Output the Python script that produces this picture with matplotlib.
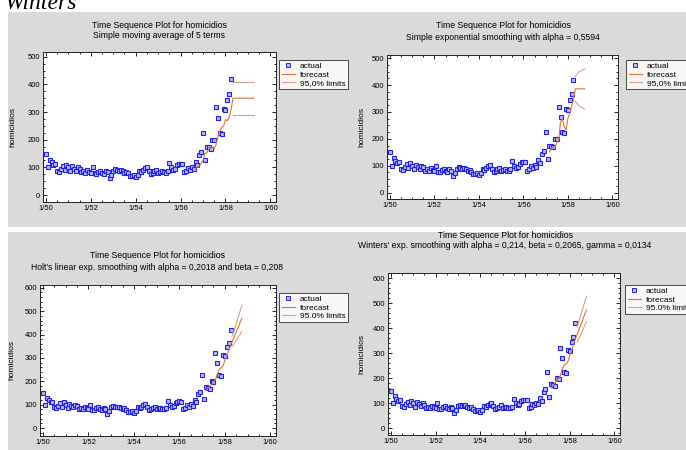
import matplotlib
matplotlib.use('Agg')
import matplotlib.pyplot as plt
import numpy as np
from matplotlib.patches import Rectangle
from matplotlib.lines import Line2D
from matplotlib.ticker import MultipleLocator

plt.rcParams['font.family'] = ['Liberation Sans', 'DejaVu Sans']

W, H = 686, 450

# ---------------- data (monthly, index 0 = 1/50) ----------------
homicidios = [
    150, 100, 128, 118, 110, 112, 88, 84, 95, 106, 92, 110,      # 1950
    100, 86, 104, 96, 88, 100, 94, 82, 86, 80, 90, 84,           # 1951
    80, 100, 78, 76, 84, 88, 80, 76, 86, 82, 62, 72,             # 1952
    88, 94, 90, 88, 92, 86, 80, 84, 78, 70, 68, 74,              # 1953
    66, 72, 88, 84, 92, 98, 102, 88, 76, 80, 86, 92,             # 1954
    80, 84, 86, 82, 80, 86, 116, 100, 92, 96, 108, 112,          # 1955
    114, 112, 82, 86, 98, 92, 102, 96, 120, 110, 145, 155,       # 1956
    225, 126, 175, 172, 168, 200, 198, 320, 280, 225, 222, 312,  # 1957
    308, 345, 365, 420,                                          # 1958
]

xtick_years = [1950, 1952, 1954, 1956, 1958, 1960]
xtick_labels = ['1/50', '1/52', '1/54', '1/56', '1/58', '1/60']

# Panel 1: simple moving average of 5 terms
sma_fit_idx = [80, 81, 82, 83, 84, 85, 86, 87, 88, 89, 90, 91, 92, 93, 94, 95, 96, 97, 98, 99]
sma_fit = [95, 102, 104, 115, 125, 151, 152, 165, 171, 173, 168, 183, 212, 233, 245, 249, 272, 269, 282, 310]
sma_fc_idx = [100, 101, 102, 103, 104, 105, 106, 107, 108, 109, 110, 111]
sma_fc = [350, 350, 350, 350, 350, 350, 350, 350, 350, 350, 350, 350]
sma_up = [409, 409, 409, 409, 409, 409, 409, 409, 409, 409, 409, 409]
sma_lo = [290, 290, 290, 290, 290, 290, 290, 290, 290, 290, 290, 290]

# Panel 2: simple exponential smoothing
ses_fit_idx = [86, 87, 88, 89, 90, 91, 92, 93, 94, 95, 96, 97, 98, 99]
ses_fit = [151, 165, 169, 168, 186, 193, 264, 273, 246, 233, 277, 294, 323, 346]
ses_fc_idx = [100, 101, 102, 103, 104, 105]
ses_fc = [386, 386, 386, 386, 386, 386]
ses_up = [432, 442, 449, 453, 457, 460]
ses_lo = [340, 330, 323, 318, 314, 311]

# Panel 3: Holt's linear exp. smoothing
holt_fit_idx = [86, 87, 88, 89, 90, 91, 92, 93, 94, 95, 96, 97, 98, 99]
holt_fit = [160, 170, 178, 186, 196, 206, 230, 250, 258, 266, 288, 306, 330, 352]
holt_fc_idx = [100, 101, 102, 103, 104, 105]
holt_fc = [372, 391, 411, 430, 450, 469]
holt_up = [394, 420, 446, 473, 499, 525]
holt_lo = [350, 362, 375, 387, 400, 413]

# Panel 4: Winters' exp. smoothing
wint_fit_idx = [86, 87, 88, 89, 90, 91, 92, 93, 94, 95, 96, 97, 98, 99]
wint_fit = [162, 172, 180, 190, 200, 210, 236, 252, 256, 266, 290, 310, 334, 356]
wint_fc_idx = [100, 101, 102, 103, 104, 105]
wint_fc = [374, 394, 414, 434, 453, 473]
wint_up = [404, 429, 454, 478, 503, 527]
wint_lo = [344, 360, 376, 392, 410, 427]

titles = [
    ("Time Sequence Plot for homicidios", "Simple moving average of 5 terms"),
    ("Time Sequence Plot for homicidios", "Simple exponential smoothing with alpha = 0,5594"),
    ("Time Sequence Plot for homicidios", "Holt's linear exp. smoothing with alpha = 0,2018 and beta = 0,208"),
    ("Time Sequence Plot for homicidios", "Winters' exp. smoothing with alpha = 0,214, beta = 0,2065, gamma = 0,0134"),
]
limit_labels = ["95,0% limits", "95,0% limits", "95.0% limits", "95.0% limits"]

# ---------------- styling ----------------
GRAY = '#dadada'
BLUE = '#2424e0'
FILL = '#b8b8ff'
FC_COL = '#d8743c'
LIM_COL = '#d9a08a'

fig = plt.figure(figsize=(W / 100, H / 100), dpi=100)
fig.patch.set_facecolor('white')


def rect(x0, y0, x1, y1):
    return [x0 / W, 1 - y1 / H, (x1 - x0) / W, (y1 - y0) / H]


def fx(x):
    return x / W


def fy(y):
    return 1 - y / H


# gray screenshot backgrounds
for (x0, y0, x1, y1) in [(8, 12, 343, 227), (343, 12, 686, 227), (8, 232, 343, 450), (343, 232, 686, 450)]:
    fig.patches.append(Rectangle((x0 / W, 1 - y1 / H), (x1 - x0) / W, (y1 - y0) / H,
                                 transform=fig.transFigure, facecolor=GRAY, edgecolor='none', zorder=-5))

# cropped heading
fig.text(fx(4), fy(9), "Winters", fontsize=17, family='Liberation Serif', style='italic',
         ha='left', va='baseline', color='black')

t = 1950 + np.arange(len(homicidios)) / 12.0

panels = [
    dict(ax=rect(43, 52, 276, 202), ylim=(-25, 517), yt=100, ym=25,
         title_xy=(159, 25, 36), ylab_x=16, leg=(279, 60),
         fit=(sma_fit_idx, sma_fit), fc=(sma_fc_idx, sma_fc, sma_up, sma_lo)),
    dict(ax=rect(387, 55, 618, 199), ylim=(-24, 512), yt=100, ym=25,
         title_xy=(503, 25, 37), ylab_x=365, leg=(626, 60),
         fit=(ses_fit_idx, ses_fit), fc=(ses_fc_idx, ses_fc, ses_up, ses_lo)),
    dict(ax=rect(40, 285, 276, 436), ylim=(-34, 612), yt=100, ym=20,
         title_xy=(157, 256, 268), ylab_x=15, leg=(279, 293),
         fit=(holt_fit_idx, holt_fit), fc=(holt_fc_idx, holt_fc, holt_up, holt_lo)),
    dict(ax=rect(388, 273, 620, 435), ylim=(-27, 620), yt=100, ym=20,
         title_xy=(505, 235, 246), ylab_x=365, leg=(625, 285),
         fit=(wint_fit_idx, wint_fit), fc=(wint_fc_idx, wint_fc, wint_up, wint_lo)),
]

for i, p in enumerate(panels):
    ax = fig.add_axes(p['ax'])
    ax.set_zorder(1)
    ax.set_facecolor('white')
    ax.set_xlim(1949.87, 1960.25)
    ax.set_ylim(*p['ylim'])

    ax.plot(t, homicidios, linestyle='none', marker='s', markersize=3.4,
            markerfacecolor=FILL, markeredgecolor=BLUE, markeredgewidth=0.8, zorder=3)

    fi, fv = p['fit']
    ci, cv, cu, cl = p['fc']
    line_x = [1950 + k / 12.0 for k in list(fi) + list(ci)]
    ax.plot(line_x, list(fv) + list(cv), color=FC_COL, lw=0.8, zorder=4)
    cx = [1950 + k / 12.0 for k in ci]
    ax.plot(cx, cu, color=LIM_COL, lw=0.8, zorder=4)
    ax.plot(cx, cl, color=LIM_COL, lw=0.8, zorder=4)

    ax.set_xticks(xtick_years)
    ax.set_xticklabels(xtick_labels)
    ax.xaxis.set_minor_locator(MultipleLocator(0.5))
    ax.yaxis.set_major_locator(MultipleLocator(p['yt']))
    ax.yaxis.set_minor_locator(MultipleLocator(p['ym']))
    ax.tick_params(which='both', direction='in', top=True, right=True, labelsize=5.5, pad=2,
                   width=0.6, colors='black')
    ax.tick_params(which='major', length=3)
    ax.tick_params(which='minor', length=1.5)
    for s in ax.spines.values():
        s.set_linewidth(0.7)
        s.set_color('#222222')

    ax.set_ylabel("homicidios", fontsize=6)
    tx, ty1, ty2 = p['title_xy']
    fig.text(fx(tx), fy(ty1), titles[i][0], fontsize=6.3, ha='center', va='center')
    fig.text(fx(tx), fy(ty2), titles[i][1], fontsize=6.2, ha='center', va='center')

    handles = [
        Line2D([], [], linestyle='none', marker='s', markersize=2.8, markerfacecolor=FILL,
               markeredgecolor=BLUE, markeredgewidth=0.7),
        Line2D([], [], color=FC_COL, lw=0.8),
        Line2D([], [], color=LIM_COL, lw=0.8),
    ]
    lx, ly = p['leg']
    leg = ax.legend(handles, ["actual", "forecast", limit_labels[i]], loc='upper left',
                    bbox_to_anchor=(fx(lx), fy(ly)), bbox_transform=fig.transFigure,
                    fontsize=6, frameon=True, fancybox=False, edgecolor='black',
                    borderpad=0.3, labelspacing=0.05, handlelength=1.6, handletextpad=0.6,
                    borderaxespad=0)
    leg.get_frame().set_linewidth(0.6)
    b = ax.get_position()
    ax.yaxis.set_label_coords(fx(p['ylab_x']), b.y0 + b.height / 2, transform=fig.transFigure)

fig.savefig('out.png', dpi=100, facecolor='white')
